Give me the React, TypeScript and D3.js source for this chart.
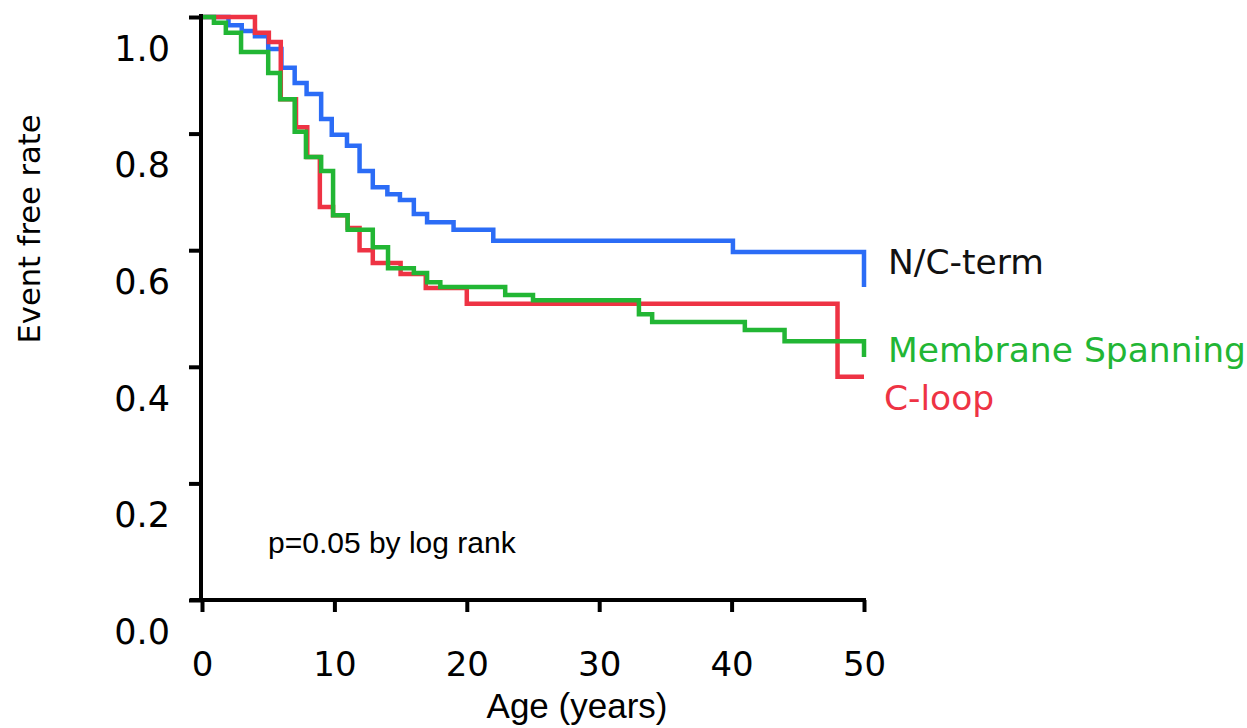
import React, { useEffect, useRef } from "react"
import * as d3 from "d3"

// Kaplan-Meier steps: time (years) and event free rate after each drop
const ncTermTimes = [0, 2, 3, 4, 5, 6, 7, 7.9, 9, 9.8, 10.95, 11.9, 12.9, 14, 14.95, 16, 17, 19, 22, 40.1, 50]
const ncTermRates = [1.0, 0.986, 0.976, 0.967, 0.945, 0.913, 0.887, 0.868, 0.825, 0.798, 0.779, 0.736, 0.708, 0.696, 0.686, 0.662, 0.648, 0.635, 0.616, 0.597, 0.537]

const cLoopTimes = [0, 4, 5.05, 5.95, 7.1, 7.95, 8.9, 9.9, 11, 11.9, 12.9, 15, 16.9, 20, 48, 50]
const cLoopRates = [1.0, 0.973, 0.957, 0.859, 0.811, 0.76, 0.674, 0.66, 0.638, 0.6, 0.578, 0.559, 0.535, 0.508, 0.383, 0.383]

const membraneTimes = [0, 0.9, 1.8, 2.95, 5, 5.9, 7, 7.85, 9, 9.9, 11, 12.9, 14.05, 16, 17, 18, 22.9, 25, 33, 34, 41, 44, 50]
const membraneRates = [1.0, 0.99, 0.973, 0.94, 0.904, 0.859, 0.803, 0.76, 0.736, 0.66, 0.635, 0.605, 0.569, 0.561, 0.545, 0.537, 0.523, 0.514, 0.49, 0.477, 0.463, 0.444, 0.417]

const xTicks = [0, 10, 20, 30, 40, 50]
const yTicks = [0, 0.2, 0.4, 0.6, 0.8, 1.0]

const series = [
    { name: "N/C-term", times: ncTermTimes, rates: ncTermRates, color: "#2b6cf6", labelColor: "#111", labelY: 262, labelX: 888 },
    { name: "C-loop", times: cLoopTimes, rates: cLoopRates, color: "#ee3344", labelColor: "#ee3344", labelY: 398, labelX: 884 },
    { name: "Membrane Spanning", times: membraneTimes, rates: membraneRates, color: "#22b634", labelColor: "#22b634", labelY: 350, labelX: 888 },
]

export default function App() {
    const ref = useRef(null)

    useEffect(() => {
        const svg = d3.select(ref.current)
        svg.selectAll("*").remove()

        const x = d3.scaleLinear().domain([0, 50]).range([202, 864])
        const y = d3.scaleLinear().domain([0, 1]).range([600, 17])

        const line = d3.line()
            .x(d => x(d[0]))
            .y(d => y(d[1]))
            .curve(d3.curveStepAfter)

        series.forEach(s => {
            const pts = s.times.map((t, i) => [t, s.rates[i]])
            svg.append("path")
                .attr("d", line(pts))
                .attr("fill", "none")
                .attr("stroke", s.color)
                .attr("stroke-width", 4.5)
        })

        // y axis
        const yAxis = d3.axisLeft(y).tickValues(yTicks).tickSize(12).tickSizeOuter(0).tickFormat(d3.format(".1f"))
        const gy = svg.append("g").attr("transform", "translate(201,0)").call(yAxis)
        gy.select(".domain").attr("stroke-width", 4).attr("d", "M0,14V600")
        gy.selectAll(".tick line").attr("stroke-width", 4)
        gy.selectAll("text")
            .attr("x", -31)
            .attr("dy", "0.35em")
            .attr("transform", "translate(0,31)")
            .attr("font-family", "DejaVu Sans")
            .attr("font-size", 35)
            .attr("fill", "#000")

        // x axis
        const xAxis = d3.axisBottom(x).tickValues(xTicks).tickSize(12).tickSizeOuter(0)
        const gx = svg.append("g").attr("transform", "translate(0,600)").call(xAxis)
        gx.select(".domain").attr("stroke-width", 4).attr("d", "M190,0H866")
        gx.selectAll(".tick line").attr("stroke-width", 4)
        gx.selectAll("text")
            .attr("y", 64)
            .attr("dy", "0.35em")
            .attr("font-family", "DejaVu Sans")
            .attr("font-size", 34)
            .attr("fill", "#000")

        svg.append("text")
            .text("Age (years)")
            .attr("x", 577).attr("y", 718)
            .attr("text-anchor", "middle")
            .attr("font-family", "Liberation Sans")
            .attr("font-size", 35)

        svg.append("text")
            .text("Event free rate")
            .attr("transform", "translate(40,229) rotate(-90)")
            .attr("text-anchor", "middle")
            .attr("font-family", "DejaVu Sans")
            .attr("font-size", 30.5)

        svg.append("text")
            .text("p=0.05 by log rank")
            .attr("x", 268).attr("y", 553)
            .attr("font-family", "Liberation Sans")
            .attr("font-size", 30)

        series.forEach(s => {
            svg.append("text")
                .text(s.name)
                .attr("x", s.labelX).attr("y", s.labelY)
                .attr("dy", "0.35em")
                .attr("font-family", "DejaVu Sans")
                .attr("font-size", 34.5)
                .attr("fill", s.labelColor)
        })
    }, [])

    return <svg ref={ref} width={1247} height={728} style={{ position: "absolute", left: 0, top: 0, background: "#fff" }} />
}
